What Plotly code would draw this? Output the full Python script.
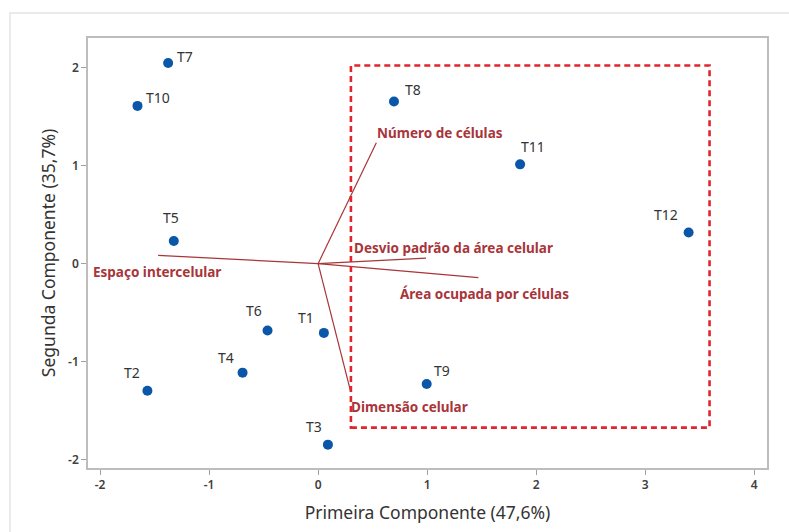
import plotly.graph_objects as go

# Treatment scores on the first two principal components
treatments = ["T1", "T2", "T3", "T4", "T5", "T6", "T7", "T8", "T9", "T10", "T11", "T12"]
pc1_scores = [0.053, -1.566, 0.090, -0.693, -1.324, -0.464, -1.376, 0.696, 0.996, -1.657, 1.853, 3.399]
pc2_scores = [-0.706, -1.296, -1.845, -1.111, 0.231, -0.682, 2.045, 1.652, -1.227, 1.608, 1.012, 0.317]

# Variable loadings (biplot vectors)
variables = ["Número de células", "Desvio padrão da área celular", "Área ocupada por células",
             "Espaço intercelular", "Dimensão celular"]
load_pc1 = [0.534, 0.990, 1.470, -1.468, 0.297]
load_pc2 = [1.233, 0.057, -0.143, 0.085, -1.296]

# Highlighted group (dashed box)
box_x = [0.301, 3.591]
box_y = [-1.671, 2.020]

x_ticks = [-2, -1, 0, 1, 2, 3, 4]
y_ticks = [-2, -1, 0, 1, 2]

# label offsets in pixels (dx, dy) for score labels
score_label_offsets = {
    "T1": (-18, 15), "T2": (-15, 18), "T3": (-14, 18), "T4": (-17, 15),
    "T5": (-3, 23), "T6": (-14, 20), "T7": (17, 7), "T8": (19, 12),
    "T9": (15, 14), "T10": (21, 8), "T11": (13, 18), "T12": (-23, 18),
}
# left-anchored offsets for loading labels
var_label_offsets = [(-1, 10), (-74, 10), (-80, -16), (-67, -17), (-1, -16)]

VEC_COLOR = "#A8353A"
PT_COLOR = "#0A56A8"
TXT = "#333333"
FONT = "Noto Sans"

fig = go.Figure()

for vx, vy in zip(load_pc1, load_pc2):
    fig.add_trace(go.Scatter(x=[0, vx], y=[0, vy], mode="lines",
                             line=dict(color=VEC_COLOR, width=1.2),
                             hoverinfo="skip", showlegend=False))

fig.add_trace(go.Scatter(x=pc1_scores, y=pc2_scores, mode="markers",
                         marker=dict(color=PT_COLOR, size=10),
                         text=treatments, showlegend=False))

annotations = []
for name, px, py in zip(treatments, pc1_scores, pc2_scores):
    dx, dy = score_label_offsets[name]
    annotations.append(dict(x=px, y=py, xref="x", yref="y", text=name, showarrow=False,
                            xshift=dx, yshift=dy,
                            font=dict(family=FONT, size=14, color=TXT)))
for name, vx, vy, (dx, dy) in zip(variables, load_pc1, load_pc2, var_label_offsets):
    annotations.append(dict(x=vx, y=vy, xref="x", yref="y", text="<b>" + name + "</b>",
                            showarrow=False, xanchor="left", xshift=dx, yshift=dy,
                            font=dict(family=FONT, size=13.5, color=VEC_COLOR)))

shapes = [
    dict(type="rect", xref="x", yref="y", x0=box_x[0], x1=box_x[1], y0=box_y[0], y1=box_y[1],
         line=dict(color="#E0262C", width=2.6, dash="6px,4px"), layer="above"),
    # outer frame
    dict(type="rect", xref="paper", yref="paper", x0=-0.1149, x1=1.2, y0=-0.4, y1=1.0581,
         line=dict(color="#E4E4E4", width=1.5), layer="below"),
]

axis_common = dict(showgrid=False, zeroline=False, showline=True, mirror=True,
                   linecolor="#BDBDBD", linewidth=1.6, ticks="outside", ticklen=5,
                   tickcolor="#A0A0A0", tickwidth=1,
                   tickfont=dict(family=FONT, size=12, color="#404040", weight=600))

fig.update_layout(
    width=789, height=532,
    margin=dict(l=88, r=22, t=38, b=64),
    paper_bgcolor="white", plot_bgcolor="white",
    xaxis=dict(range=[-2.111, 4.118], tickvals=x_ticks, ticktext=[str(v) for v in x_ticks],
               title=dict(text="Primeira Componente (47,6%)", standoff=15,
                          font=dict(family=FONT, size=17.5, color=TXT)),
               **axis_common),
    yaxis=dict(range=[-2.083, 2.30], tickvals=y_ticks, ticktext=[str(v) for v in y_ticks],
               title=dict(text="Segunda Componente (35,7%)", standoff=8,
                          font=dict(family=FONT, size=17.5, color=TXT)),
               **axis_common),
    annotations=annotations,
    shapes=shapes,
)

fig.write_html("out.html")
